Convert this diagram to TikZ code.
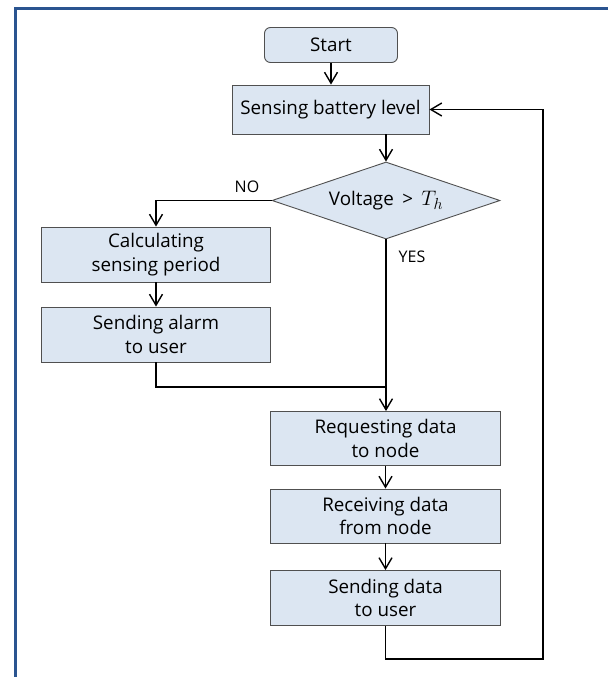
\RequirePackage{fix-cm}
\documentclass[tikz,border=0pt]{standalone}
\usepackage{fontspec}
\setmainfont{Open Sans}
\usetikzlibrary{shapes.geometric,arrows.meta}
\DeclareMathSizes{18.8}{21}{16}{13}
\definecolor{boxfill}{HTML}{DCE6F2}
\definecolor{boxline}{HTML}{505050}
\definecolor{frameblue}{HTML}{2A5490}
\tikzset{
  stepbox/.style={draw=boxline, line width=0.9pt, fill=boxfill, align=center, inner sep=2pt,
    font=\fontsize{18.8}{23.5}\selectfont},
  startbox/.style={stepbox, rounded corners=6pt},
  decbox/.style={draw=boxline, line width=0.9pt, fill=boxfill, diamond, aspect=2.96, inner sep=0pt,
    minimum width=228pt, minimum height=77pt, font=\fontsize{18.8}{23.5}\selectfont},
  conn/.style={draw=black, line width=1.6pt, -{Straight Barb[length=11pt,width=13pt,line width=1.4pt]}},
  plainconn/.style={draw=black, line width=1.6pt},
  lbl/.style={font=\fontsize{16}{19}\selectfont, inner sep=0pt}
}
\begin{document}
\begin{tikzpicture}[x=1pt,y=-1pt]
\useasboundingbox (0,0) rectangle (608,677);
% frame
\draw[frameblue, line width=3pt] (15,677) -- (15,9) -- (608,9);
% nodes
\node[startbox, minimum width=133pt, minimum height=35pt] (start) at (331,45) {Start};
\node[stepbox, minimum width=197pt, minimum height=49pt] (sense) at (330.5,109.5) {Sensing battery level};
\node[decbox] (dec) at (386,200.5) {Voltage\hspace{0.45em}>\hspace{0.45em}$T_h$};
\node[stepbox, minimum width=229pt, minimum height=55pt] (calc) at (156,254.5) {Calculating\\sensing period};
\node[stepbox, minimum width=229pt, minimum height=55pt] (alarm) at (156,334.5) {Sending alarm\\to user};
\node[stepbox, minimum width=230pt, minimum height=54pt] (req) at (385.5,438.5) {Requesting data\\to node};
\node[stepbox, minimum width=230pt, minimum height=54pt] (recv) at (385.5,516) {Receiving data\\from node};
\node[stepbox, minimum width=230pt, minimum height=55pt] (send) at (385.5,598) {Sending data\\to user};
\node[lbl] (no) at (247,187) {NO};
\node[lbl] (yes) at (412,257) {YES};
\coordinate (join) at (386,387);
\coordinate (loopc) at (543,659);
% connectors
\draw[conn] (start.south) -- (sense.north -| start.south);
\draw[conn] (sense.south -| dec.north) -- (dec.north);
\draw[conn] (dec.west) -| (calc.north);
\draw[conn] (calc.south) -- (alarm.north);
\draw[plainconn] (alarm.south) |- (join);
\draw[conn] (dec.south) -- (req.north -| dec.south);
\draw[conn] (req.south) -- (recv.north);
\draw[conn] (recv.south) -- (send.north);
\draw[conn] (send.south) |- (loopc) |- (sense.east);
\end{tikzpicture}
\end{document}
